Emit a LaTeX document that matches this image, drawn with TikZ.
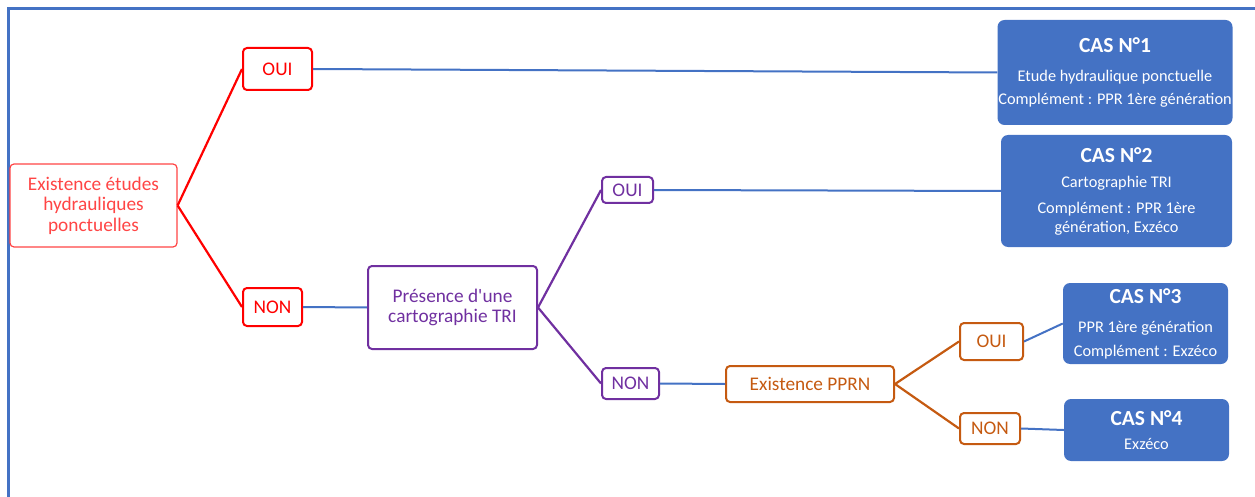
\documentclass[tikz,border=0pt]{standalone}
\usepackage{fontspec}
\setmainfont{Carlito}
\definecolor{casblue}{HTML}{4472C4}
\definecolor{rred}{HTML}{FF0000}
\definecolor{rootred}{HTML}{FF4545}
\definecolor{purp}{HTML}{7030A0}
\definecolor{orng}{HTML}{C55A11}
\begin{document}
\begin{tikzpicture}[x=1pt,y=-1pt,
  every node/.style={inner sep=0pt, align=center},
  q/.style={draw, rounded corners=4pt, line width=2pt, font=\fontsize{19.3}{20.5}\selectfont},
  cas/.style={fill=casblue, rounded corners=7pt, text=white, font=\fontsize{16.3}{19}\selectfont},
  rl/.style={draw=rred, line width=2.2pt},
  pl/.style={draw=purp, line width=2.2pt},
  ol/.style={draw=orng, line width=2.2pt},
  bl/.style={draw=casblue, line width=2pt}
]
\useasboundingbox (0,0) rectangle (1255,497);
\draw[casblue, line width=2.5pt] (8.5,497) -- (8.5,8.5) -- (1255,8.5);

\node[q, draw=rootred, line width=1.2pt, text=rootred, minimum width=167pt, minimum height=83pt] (root) at (93.5,205.5) {Existence études\\hydrauliques\\ponctuelles};
\node[q, draw=rred, text=rred, minimum width=69pt, minimum height=42pt] (oui1) at (277.5,69) {OUI};
\node[q, draw=rred, text=rred, minimum width=59pt, minimum height=38pt] (non1) at (272.5,307) {NON};
\node[q, draw=purp, text=purp, minimum width=169pt, minimum height=83pt] (tri) at (452.5,307.5) {Présence d\textquotesingle une\\cartographie TRI};
\node[q, draw=purp, text=purp, minimum width=51pt, minimum height=26pt] (oui2) at (627.5,190) {OUI};
\node[q, draw=purp, text=purp, minimum width=57pt, minimum height=31pt] (non2) at (630.5,383.5) {NON};
\node[q, draw=orng, text=orng, minimum width=168pt, minimum height=36pt] (pprn) at (810,384) {Existence PPRN};
\node[q, draw=orng, text=orng, minimum width=63pt, minimum height=37pt] (oui3) at (991.5,341.5) {OUI};
\node[q, draw=orng, text=orng, minimum width=60pt, minimum height=31pt] (non3) at (990,428.5) {NON};

\node[cas, minimum width=235pt, minimum height=105pt] (cas1) at (1115,72.5)
  {{\bfseries\fontsize{21.5}{21.5}\selectfont CAS N°1}\\[9.5pt]Etude hydraulique ponctuelle\\[4pt]Complément : PPR 1ère génération};
\node[cas, minimum width=231pt, minimum height=112pt] (cas2) at (1116.5,191)
  {{\bfseries\fontsize{21.5}{21.5}\selectfont CAS N°2}\\[6pt]Cartographie TRI\\[7pt]Complément : PPR 1ère\\génération, Exzéco};
\node[cas, minimum width=165pt, minimum height=81pt] (cas3) at (1145.5,323.5)
  {{\bfseries\fontsize{21.5}{21.5}\selectfont CAS N°3}\\[10pt]PPR 1ère génération\\[5pt]Complément : Exzéco};
\node[cas, minimum width=165pt, minimum height=62pt] (cas4) at (1146.5,430)
  {{\bfseries\fontsize{21.5}{21.5}\selectfont CAS N°4}\\[5pt]Exzéco};

\draw[rl] (root.east) -- (oui1.west);
\draw[rl] (root.east) -- (non1.west);
\draw[bl] (oui1.east) -- (cas1.west);
\draw[bl] (non1.east) -- (tri.west);
\draw[pl] (tri.east) -- (oui2.west);
\draw[pl] (tri.east) -- (non2.west);
\draw[bl] (oui2.east) -- (cas2.west);
\draw[bl] (non2.east) -- (pprn.west);
\draw[ol] (pprn.east) -- (oui3.west);
\draw[ol] (pprn.east) -- (non3.west);
\draw[bl] (oui3.east) -- (cas3.west);
\draw[bl] (non3.east) -- (cas4.west);
\end{tikzpicture}
\end{document}
